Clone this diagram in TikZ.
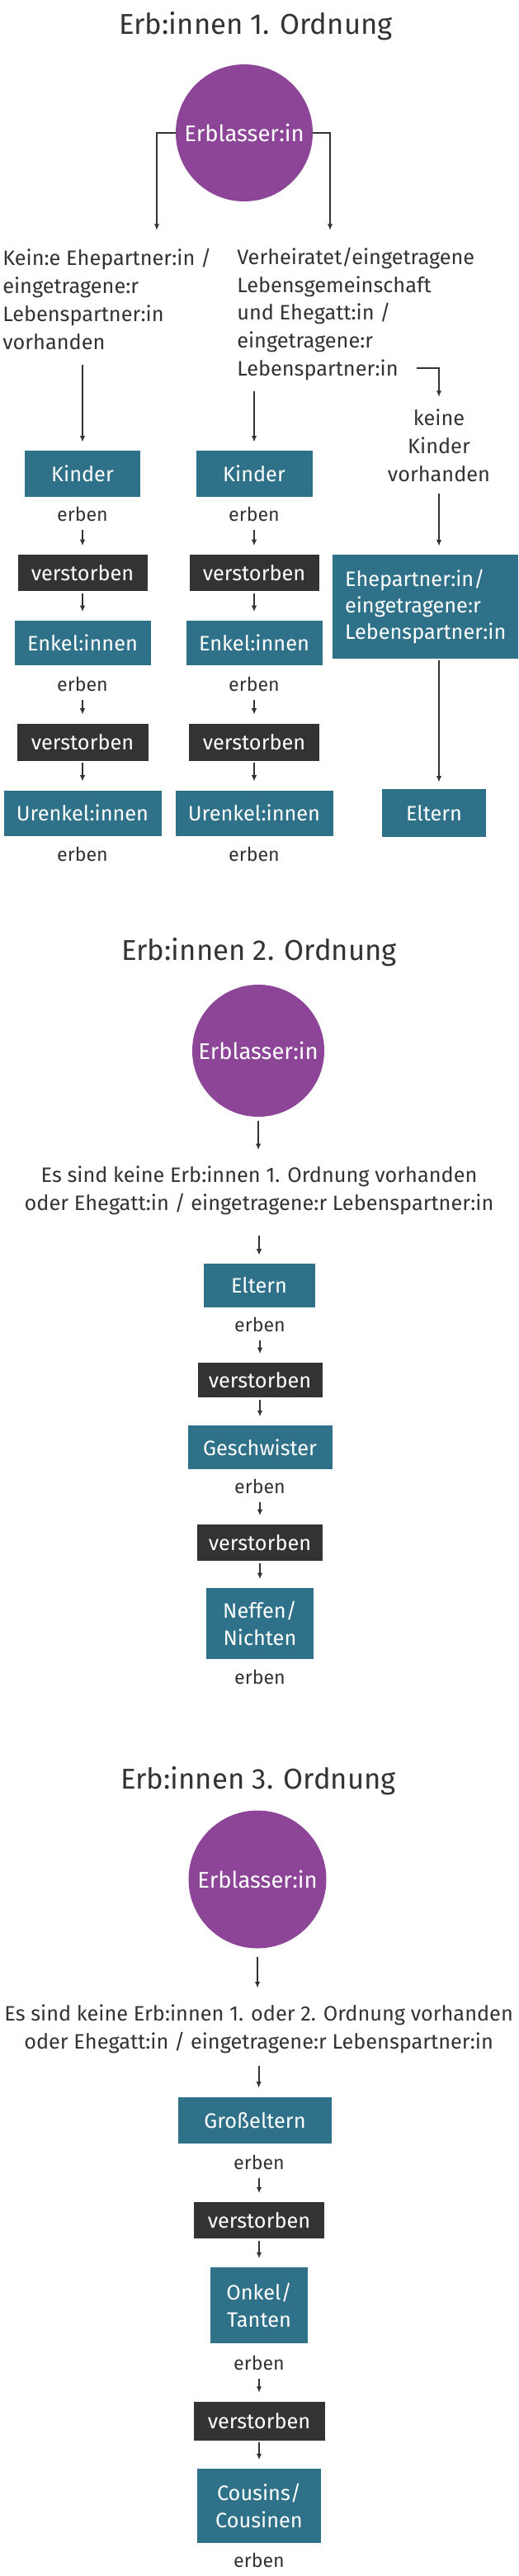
\documentclass[tikz,border=0pt]{standalone}
\usepackage{fontspec}
\setmainfont{Fira Sans}
\usepackage{tikz}
\usepackage{xcolor}
\usetikzlibrary{
    arrows.meta,
    positioning
}
\definecolor{lila}{HTML}{8D4598}
\definecolor{petrol}{HTML}{2F7189}
\definecolor{anthrazit}{HTML}{333333}

\begin{document}
\begin{tikzpicture}[
    titel/.style={text=anthrazit, font=\fontsize{24.7}{30}\selectfont, inner sep=0pt},
    kreis/.style={circle, fill=lila, text=white, font=\fontsize{19.5}{24}\selectfont, inner sep=0pt},
    txt/.style={text=anthrazit, font=\fontsize{18}{24}\selectfont, inner sep=0pt},
    erb/.style={text=anthrazit, font=\fontsize{16.5}{20}\selectfont, inner xsep=0pt, inner ysep=0.175cm},
    kasten/.style={fill=petrol, text=white, font=\fontsize{18}{23}\selectfont, inner sep=0pt, align=center},
    tot/.style={fill=anthrazit, text=white, font=\fontsize{18}{24}\selectfont, inner sep=0pt},
    pfeil/.style={draw=anthrazit, line width=1.4pt, -{Latex[length=0.19cm, width=0.16cm]}},
    kette/.style={pfeil, shorten <=0.06cm, shorten >=0.26cm}
]
    \fill[white] (0, 0) rectangle (15.7, -78.025);
    \useasboundingbox (0, 0) rectangle (15.7, -78.025);

    \node[titel] (t1) at (7.75, -0.79) {Erb:innen 1. Ordnung};
    \node[kreis, minimum size=4.15cm] (el1) at (7.4, -4.025) {Erblasser:in};
    \node[txt, anchor=west, align=left] (ka) at (0.075, -9.06) {Kein:e Ehepartner:in /\\eingetragene:r\\Lebenspartner:in\\vorhanden};
    \node[txt, anchor=west, align=left] (kb) at (7.175, -9.51) {Verheiratet/eingetragene\\Lebensgemeinschaft\\und Ehegatt:in /\\eingetragene:r\\Lebenspartner:in};
    \node[txt, align=center] (kc) at (13.3, -13.5) {keine\\Kinder\\vorhanden};
    \coordinate (ca) at (4.75, -6.975);
    \coordinate (cb) at (10.0, -6.975);
    \coordinate (cc) at (12.625, -11.15);

    \node[kasten, minimum width=3.5cm, minimum height=1.4cm] (kia) at (2.5, -14.35) {Kinder};
    \node[erb] (ea1) at (2.5, -15.575) {erben};
    \node[tot, minimum width=3.925cm, minimum height=1.1cm] (va1) at (2.5, -17.35) {verstorben};
    \node[kasten, minimum width=4.125cm, minimum height=1.35cm] (ena) at (2.5, -19.475) {Enkel:innen};
    \node[erb] (ea2) at (2.5, -20.725) {erben};
    \node[tot, minimum width=3.975cm, minimum height=1.125cm] (va2) at (2.5, -22.475) {verstorben};
    \node[kasten, minimum width=4.775cm, minimum height=1.375cm] (ua) at (2.5, -24.625) {Urenkel:innen};
    \node[erb] (ea3) at (2.5, -25.875) {erben};

    \node[kasten, minimum width=3.525cm, minimum height=1.4cm] (kib) at (7.7, -14.35) {Kinder};
    \node[erb] (eb1) at (7.7, -15.575) {erben};
    \node[tot, minimum width=3.925cm, minimum height=1.1cm] (vb1) at (7.7, -17.35) {verstorben};
    \node[kasten, minimum width=4.125cm, minimum height=1.35cm] (enb) at (7.7, -19.475) {Enkel:innen};
    \node[erb] (eb2) at (7.7, -20.725) {erben};
    \node[tot, minimum width=3.95cm, minimum height=1.125cm] (vb2) at (7.7, -22.475) {verstorben};
    \node[kasten, minimum width=4.775cm, minimum height=1.375cm] (ub) at (7.7, -24.625) {Urenkel:innen};
    \node[erb] (eb3) at (7.7, -25.875) {erben};

    \node[kasten, text width=4.875cm, inner xsep=0.375cm, minimum height=3.15cm, align=left] (ep) at (12.8875, -18.375) {Ehepartner:in/\\eingetragene:r\\Lebenspartner:in};
    \node[kasten, minimum width=3.15cm, minimum height=1.45cm] (elt1) at (13.15, -24.625) {Eltern};

    \draw[pfeil] (el1.west) -| (ca);
    \draw[pfeil] (el1.east) -| (cb);
    \draw[pfeil, shorten <=0.45cm, shorten >=0.25cm] (kia.north |- ka.south) -- (kia.north);
    \draw[pfeil, shorten <=0.325cm, shorten >=0.25cm] (kib.north |- kb.south) -- (kib.north);
    \draw[pfeil, shorten >=0.375cm] (cc) -| (kc.north);
    \draw[pfeil, shorten <=0.35cm, shorten >=0.25cm] (kc.south) -- (kc.south |- ep.north);
    \draw[pfeil, shorten <=0.05cm, shorten >=0.2cm] (kc.south |- ep.south) -- (kc.south |- elt1.north);
    \draw[kette] (ea1) -- (va1);
    \draw[kette] (va1) -- (ena);
    \draw[kette] (ea2) -- (va2);
    \draw[kette] (va2) -- (ua);
    \draw[kette] (eb1) -- (vb1);
    \draw[kette] (vb1) -- (enb);
    \draw[kette] (eb2) -- (vb2);
    \draw[kette] (vb2) -- (ub);

    \begin{scope}[shift={(0, -27.5)}]
        \node[titel] (t2) at (7.85, -1.33) {Erb:innen 2. Ordnung};
        \node[kreis, minimum size=4cm] (el2) at (7.825, -4.325) {Erblasser:in};
        \node[txt, align=center] (es2) at (7.85, -8.55) {Es sind keine Erb:innen 1. Ordnung vorhanden\\oder Ehegatt:in / eingetragene:r Lebenspartner:in};
        \node[kasten, minimum width=3.375cm, minimum height=1.325cm] (elt2) at (7.85, -11.44) {Eltern};
        \node[erb] (e21) at (7.875, -12.625) {erben};
        \node[tot, minimum width=3.775cm, minimum height=1.05cm] (t21) at (7.875, -14.3) {verstorben};
        \node[kasten, minimum width=4.375cm, minimum height=1.325cm] (ge) at (7.875, -16.34) {Geschwister};
        \node[erb] (e22) at (7.875, -17.525) {erben};
        \node[tot, minimum width=3.8cm, minimum height=1.1cm] (t22) at (7.875, -19.225) {verstorben};
        \node[kasten, minimum width=3.25cm, minimum height=2.15cm] (ne) at (7.875, -21.675) {Neffen/\\Nichten};
        \node[erb] (e23) at (7.875, -23.3) {erben};

        \draw[pfeil, shorten <=0.125cm, shorten >=0.475cm] (el2.south) -- (el2.south |- es2.north);
        \draw[pfeil, shorten <=0.625cm, shorten >=0.25cm] (es2.south) -- (es2.south |- elt2.north);
        \draw[kette] (e21) -- (t21);
        \draw[kette] (t21) -- (ge);
        \draw[kette] (e22) -- (t22);
        \draw[kette] (t22) -- (ne);
    \end{scope}

    \begin{scope}[shift={(0, -52.5)}]
        \node[titel] (t3) at (7.825, -1.44) {Erb:innen 3. Ordnung};
        \node[kreis, minimum size=4.175cm] (el3) at (7.8, -4.425) {Erblasser:in};
        \node[txt, align=center] (es3) at (7.84, -8.96) {Es sind keine Erb:innen 1. oder 2. Ordnung vorhanden\\oder Ehegatt:in / eingetragene:r Lebenspartner:in};
        \node[kasten, minimum width=4.65cm, minimum height=1.4cm] (gr) at (7.725, -11.725) {Großeltern};
        \node[erb] (e31) at (7.85, -13.0) {erben};
        \node[tot, minimum width=3.95cm, minimum height=1.1cm] (t31) at (7.85, -14.75) {verstorben};
        \node[kasten, minimum width=2.95cm, minimum height=2.3cm] (on) at (7.85, -17.325) {Onkel/\\Tanten};
        \node[erb] (e32) at (7.85, -19.075) {erben};
        \node[tot, minimum width=3.975cm, minimum height=1.175cm] (t32) at (7.85, -20.825) {verstorben};
        \node[kasten, minimum width=3.75cm, minimum height=2.25cm] (co) at (7.85, -23.4) {Cousins/\\Cousinen};
        \node[erb] (e33) at (7.85, -25.05) {erben};

        \draw[pfeil, shorten <=0.25cm, shorten >=0.5cm] (el3.south) -- (el3.south |- es3.north);
        \draw[pfeil, shorten <=0.375cm, shorten >=0.275cm] (es3.south) -- (es3.south |- gr.north);
        \draw[kette] (e31) -- (t31);
        \draw[kette] (t31) -- (on);
        \draw[kette] (e32) -- (t32);
        \draw[kette] (t32) -- (co);
    \end{scope}
\end{tikzpicture}
\end{document}
